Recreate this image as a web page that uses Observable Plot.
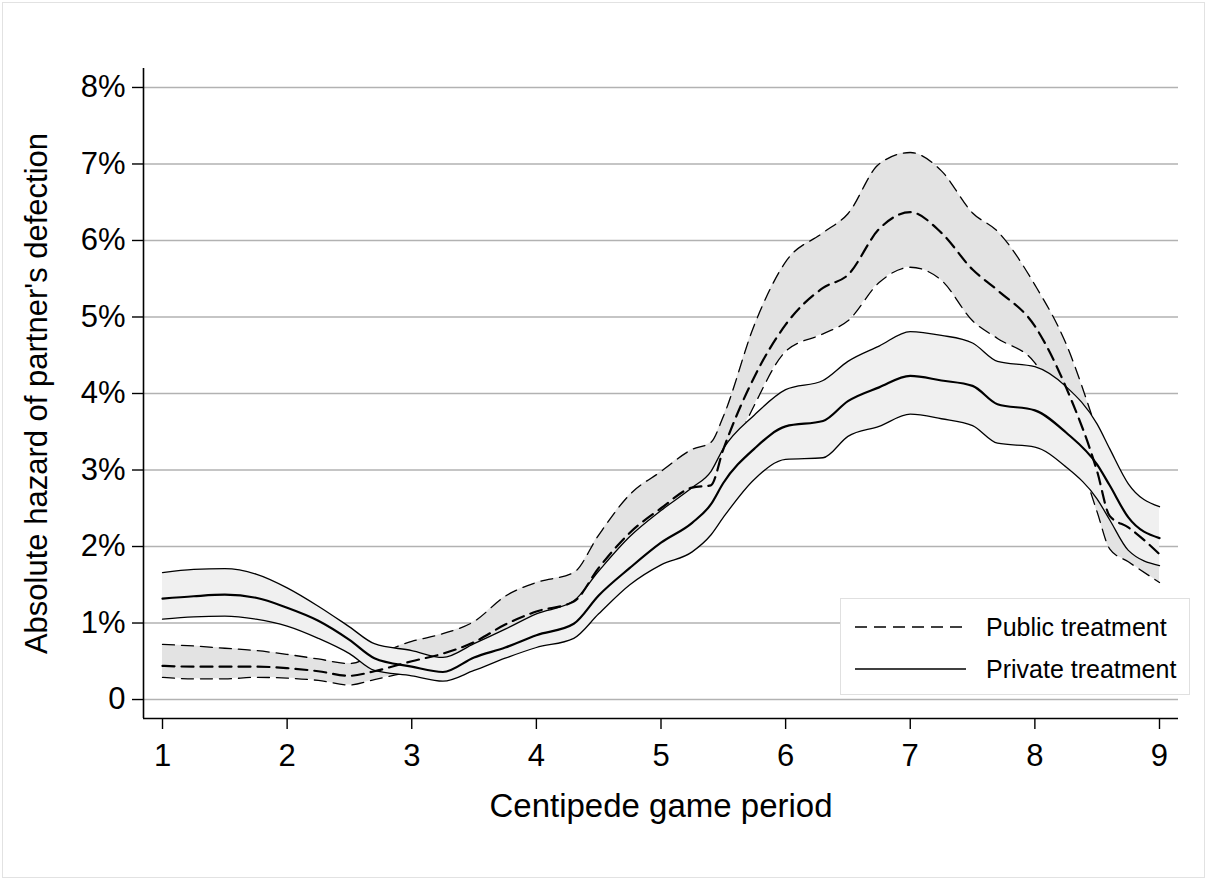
<!DOCTYPE html>
<html><head><meta charset="utf-8">
<script src="https://cdn.jsdelivr.net/npm/d3@7"></script>
<script src="https://cdn.jsdelivr.net/npm/@observablehq/plot@0.6"></script>
<style>
body{margin:0;background:#fff;}
#wrap{position:relative;width:1207px;height:880px;overflow:hidden;}
#border{position:absolute;left:2px;top:2px;width:1201px;height:874px;border:1px solid #e2e2e2;pointer-events:none;}
#legend{position:absolute;left:840px;top:598px;width:350px;height:97px;background:#fff;border:1px solid #e0e0e0;box-sizing:border-box;}
</style></head><body>
<div id="wrap"><div id="chart"></div><div id="legend"></div><div id="border"></div></div>
<script>
// Centipede game period (x)
const periods = [1, 1.25, 1.5, 1.75, 2, 2.25, 2.5, 2.7, 3, 3.25, 3.5, 3.75, 4, 4.3, 4.5, 4.75, 5, 5.25, 5.4, 5.5, 5.75, 6, 6.3, 6.5, 6.75, 7, 7.25, 7.5, 7.7, 8, 8.25, 8.5, 8.6, 8.75, 9];
// Public treatment (%): lower CI, estimate, upper CI
const pubLo   = [0.29,0.27,0.27,0.29,0.28,0.25,0.19,0.26,0.36,0.40,0.50,0.70,0.85,0.95,1.28,1.70,2.05,2.42,2.55,2.95,3.85,4.55,4.78,4.95,5.45,5.65,5.48,4.95,4.72,4.40,3.65,2.45,1.97,1.80,1.53];
const pubMean = [0.44,0.43,0.43,0.43,0.41,0.37,0.31,0.37,0.50,0.60,0.75,0.98,1.15,1.28,1.72,2.18,2.50,2.77,2.80,3.27,4.22,4.90,5.38,5.55,6.15,6.37,6.10,5.62,5.35,4.88,4.08,2.98,2.40,2.25,1.90];
const pubHi   = [0.72,0.70,0.67,0.64,0.59,0.53,0.47,0.58,0.76,0.86,1.02,1.35,1.53,1.66,2.15,2.68,2.98,3.27,3.36,3.70,4.90,5.72,6.10,6.35,7.00,7.15,6.91,6.36,6.12,5.42,4.65,3.50,3.00,2.55,2.30];
// Private treatment (%): lower CI, estimate, upper CI
const privLo   = [1.05,1.08,1.09,1.05,0.96,0.80,0.60,0.38,0.31,0.24,0.38,0.54,0.68,0.80,1.12,1.50,1.76,1.93,2.15,2.38,2.88,3.14,3.16,3.44,3.57,3.73,3.67,3.58,3.35,3.30,3.04,2.62,2.35,1.95,1.75];
const privMean = [1.32,1.35,1.37,1.33,1.20,1.03,0.78,0.54,0.43,0.36,0.55,0.68,0.84,0.99,1.36,1.72,2.05,2.31,2.55,2.83,3.28,3.57,3.64,3.90,4.08,4.23,4.17,4.10,3.86,3.78,3.49,3.07,2.80,2.38,2.11];
const privHi   = [1.66,1.70,1.71,1.64,1.46,1.22,0.95,0.73,0.64,0.55,0.73,0.92,1.12,1.29,1.68,2.13,2.47,2.77,2.98,3.28,3.72,4.05,4.17,4.42,4.62,4.81,4.76,4.66,4.42,4.35,4.09,3.60,3.28,2.82,2.52];
// ticks
const yTicks = [0,1,2,3,4,5,6,7,8];
const xTicks = [1,2,3,4,5,6,7,8,9];
const seriesNames = ["Public treatment", "Private treatment"];

const rows = periods.map((p,i) => ({period:p, pubLo:pubLo[i], pubMean:pubMean[i], pubHi:pubHi[i], privLo:privLo[i], privMean:privMean[i], privHi:privHi[i]}));

const X0 = 0.8475, X1 = 9.1525, Y0 = -0.248, Y1 = 8.248;
const font = "'Liberation Sans', Arial, Helvetica, sans-serif";
const DASH = "12,7";
const CURVE = "monotone-x";

const chart = Plot.plot({
  width: 1207, height: 880,
  marginLeft: 143, marginRight: 29, marginTop: 68, marginBottom: 162,
  style: {fontFamily: font, background: "white", color: "black"},
  x: {domain: [X0, X1]},
  y: {domain: [Y0, Y1]},
  marks: [
    Plot.ruleY(yTicks, {x1: X0, x2: X1, stroke: "#b2b2b2", strokeWidth: 1.6}),
    Plot.areaY(rows, {x: "period", y1: "pubLo", y2: "pubHi", fill: "#e3e3e3", curve: CURVE}),
    Plot.lineY(rows, {x: "period", y: "pubHi", stroke: "#000", strokeWidth: 1.3, strokeDasharray: DASH, curve: CURVE}),
    Plot.lineY(rows, {x: "period", y: "pubLo", stroke: "#000", strokeWidth: 1.3, strokeDasharray: DASH, curve: CURVE}),
    Plot.areaY(rows, {x: "period", y1: "privLo", y2: "privHi", fill: "#f0f0f0", curve: CURVE}),
    Plot.lineY(rows, {x: "period", y: "privHi", stroke: "#000", strokeWidth: 1.3, curve: CURVE}),
    Plot.lineY(rows, {x: "period", y: "privLo", stroke: "#000", strokeWidth: 1.3, curve: CURVE}),
    Plot.lineY(rows, {x: "period", y: "pubMean", stroke: "#000", strokeWidth: 2.2, strokeDasharray: DASH, curve: CURVE}),
    Plot.lineY(rows, {x: "period", y: "privMean", stroke: "#000", strokeWidth: 2.2, curve: CURVE}),
    Plot.ruleX([X0], {y1: Y0, y2: Y1, stroke: "#000", strokeWidth: 1.6}),
    Plot.ruleY([Y0], {x1: X0, x2: X1, stroke: "#000", strokeWidth: 1.6}),
    Plot.axisY(yTicks, {tickSize: 11, tickPadding: 7, fontSize: 31, strokeWidth: 1.4, tickFormat: d => d === 0 ? "0" : d + "%", label: null}),
    Plot.axisX(xTicks, {tickSize: 11, tickPadding: 14, fontSize: 31, strokeWidth: 1.4, tickFormat: d => String(d), label: null}),
    Plot.text(["Absolute hazard of partner's defection"], {frameAnchor: "left", textAnchor: "middle", lineAnchor: "middle", rotate: -90, dx: -106, fontSize: 31, fill: "#000"}),
    Plot.text(["Centipede game period"], {frameAnchor: "bottom", textAnchor: "middle", lineAnchor: "middle", dy: 88, fontSize: 33, fill: "#000"})
  ]
});
document.getElementById("chart").appendChild(chart);

// legend
const leg = d3.select("#legend").append("svg").attr("width", 348).attr("height", 95)
  .style("font-family", font);
const legRows = [{name: seriesNames[0], dash: DASH, y: 28}, {name: seriesNames[1], dash: null, y: 70}];
for (const r of legRows) {
  const ln = leg.append("line").attr("x1", 14).attr("x2", 125).attr("y1", r.y).attr("y2", r.y)
    .attr("stroke", "#000").attr("stroke-width", 1.4);
  if (r.dash) ln.attr("stroke-dasharray", r.dash);
  leg.append("text").attr("x", 145).attr("y", r.y).attr("dy", "0.35em")
    .attr("font-size", 25).attr("fill", "#000").text(r.name);
}
</script>
</body></html>
